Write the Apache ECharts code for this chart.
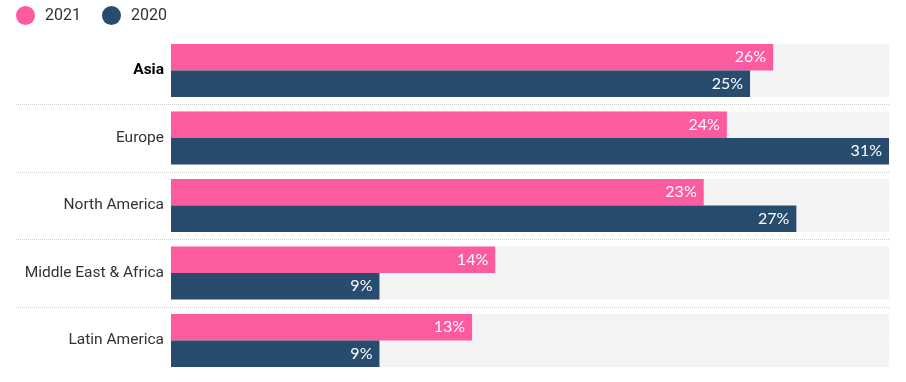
<!DOCTYPE html>
<html>
<head>
<meta charset="utf-8">
<script src="https://cdn.jsdelivr.net/npm/echarts@6/dist/echarts.min.js"></script>
<style>
html,body{margin:0;padding:0;background:#fff;}
#chart{width:906px;height:382px;}
</style>
</head>
<body>
<div id="chart"></div>
<script>
const categories = ['Asia', 'Europe', 'North America', 'Middle East & Africa', 'Latin America'];
const values2021 = [26, 24, 23, 14, 13];
const values2020 = [25, 31, 27, 9, 9];
const seriesNames = ['2021', '2020'];
const axisMax = 31;

const chart = echarts.init(document.getElementById('chart'));
const labelStyle = {
  show: true,
  position: 'insideRight',
  distance: 7,
  color: '#fff',
  fontSize: 16,
  fontFamily: 'Lato, sans-serif',
  formatter: '{c}%'
};
chart.setOption({
  animation: false,
  legend: {
    left: 11, top: 1,
    icon: 'circle',
    itemWidth: 19, itemHeight: 19,
    itemGap: 21,
    textStyle: { fontSize: 16, color: '#333', fontFamily: 'Roboto, sans-serif', padding: [0, 0, 0, 5] },
    data: seriesNames
  },
  grid: [
    { left: 171, right: 17, top: 36.75, bottom: 7.75 },
    { left: 16, right: 17, top: 36.75, bottom: 7.75 }
  ],
  xAxis: [
    { type: 'value', gridIndex: 0, min: 0, max: axisMax, show: false },
    { type: 'value', gridIndex: 1, min: 0, max: 1, show: false }
  ],
  yAxis: [
    {
      type: 'category', gridIndex: 0, data: categories, inverse: true,
      axisLine: { show: false }, axisTick: { show: false },
      axisLabel: {
        margin: 7, fontSize: 15.5, color: '#333', fontFamily: 'Roboto, sans-serif',
        formatter: (v, i) => i === 0 ? '{b|' + v + '}' : v,
        rich: { b: { fontWeight: 'bold', color: '#000', fontSize: 15.5, fontFamily: 'Roboto, sans-serif' } }
      },
      splitLine: { show: false }
    },
    {
      type: 'value', gridIndex: 1, min: 0, max: categories.length, interval: 1, inverse: true,
      axisLine: { show: false }, axisTick: { show: false }, axisLabel: { show: false },
      splitLine: { show: true, showMinLine: false, showMaxLine: false, lineStyle: { color: '#cfcfcf', type: 'dotted', width: 1 } }
    }
  ],
  series: [
    {
      name: seriesNames[0], type: 'bar', xAxisIndex: 0, yAxisIndex: 0,
      data: values2021,
      itemStyle: { color: '#fd5b9f' },
      barGap: '0%', barCategoryGap: '21.5%',
      showBackground: true, backgroundStyle: { color: '#f3f3f3' },
      label: labelStyle, z: 3
    },
    {
      name: seriesNames[1], type: 'bar', xAxisIndex: 0, yAxisIndex: 0,
      data: values2020,
      itemStyle: { color: '#274c6e' },
      barGap: '0%', barCategoryGap: '21.5%',
      showBackground: true, backgroundStyle: { color: '#f3f3f3' },
      label: labelStyle, z: 3
    }
  ]
});
</script>
</body>
</html>
